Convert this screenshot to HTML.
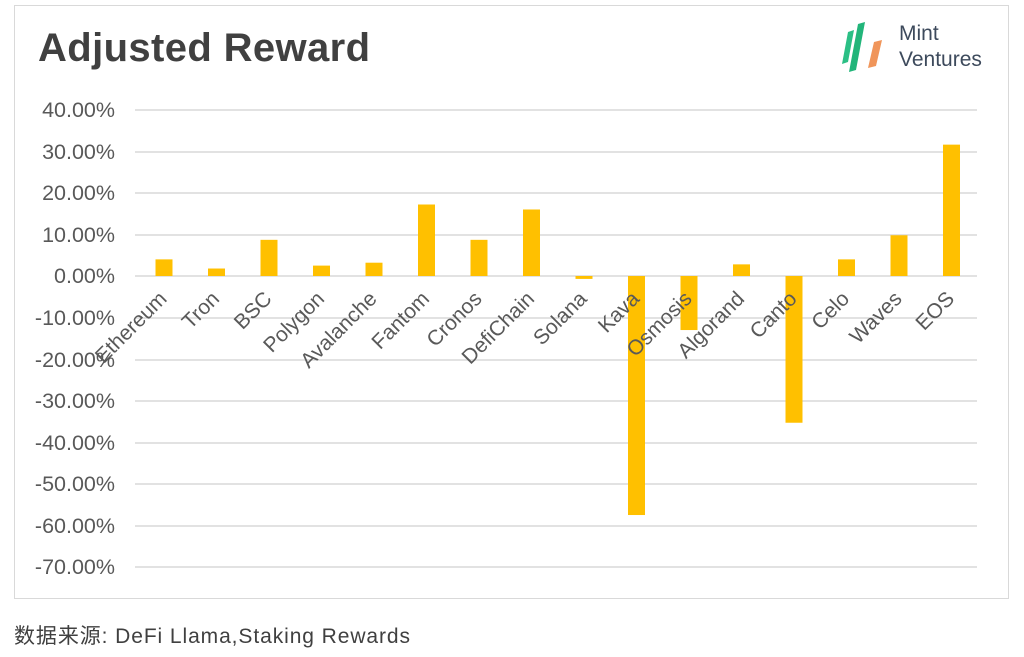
<!DOCTYPE html>
<html><head><meta charset="utf-8"><style>
body{margin:0;background:#fff;width:1024px;height:652px;overflow:hidden;font-family:"Liberation Sans","Noto Sans CJK SC",sans-serif}
</style></head><body>
<svg width="1024" height="652" xmlns="http://www.w3.org/2000/svg" font-family="Liberation Sans, Noto Sans CJK SC, sans-serif">
<rect x="14.5" y="5.5" width="994" height="593" fill="#fff" stroke="#d9d9d9"/>
<text x="38" y="61" font-size="40" font-weight="bold" fill="#404040" textLength="332">Adjusted Reward</text>
<g transform="translate(838,22)">
<polygon points="10,10 16,8 10,40 4,42" fill="#2bbf85"/>
<polygon points="20,2 27,0 18,48 11,50" fill="#22b57a"/>
<polygon points="36,20 44,18 38,44 30,46" fill="#f0955a"/>
</g>
<text x="899" y="40" font-size="21" fill="#3d4a5c">Mint</text>
<text x="899" y="66" font-size="21" fill="#3d4a5c">Ventures</text>
<g stroke="#d9d9d9" stroke-width="1.5">
<line x1="135" x2="977" y1="110" y2="110"/><line x1="135" x2="977" y1="152" y2="152"/>
<line x1="135" x2="977" y1="193" y2="193"/><line x1="135" x2="977" y1="235" y2="235"/>
<line x1="135" x2="977" y1="318" y2="318"/><line x1="135" x2="977" y1="360" y2="360"/>
<line x1="135" x2="977" y1="401" y2="401"/><line x1="135" x2="977" y1="443" y2="443"/>
<line x1="135" x2="977" y1="484" y2="484"/><line x1="135" x2="977" y1="526" y2="526"/>
<line x1="135" x2="977" y1="567" y2="567"/><line x1="135" x2="977" y1="276" y2="276"/>
</g>
<g font-size="21.5" fill="#595959" text-anchor="end">
<text x="115" y="117">40.00%</text><text x="115" y="159">30.00%</text>
<text x="115" y="200">20.00%</text><text x="115" y="242">10.00%</text>
<text x="115" y="283">0.00%</text><text x="115" y="325">-10.00%</text>
<text x="115" y="367">-20.00%</text><text x="115" y="408">-30.00%</text>
<text x="115" y="450">-40.00%</text><text x="115" y="491">-50.00%</text>
<text x="115" y="533">-60.00%</text><text x="115" y="574">-70.00%</text>
</g>
<g fill="#ffc000" id="bars"></g>
<g font-size="21" fill="#595959" text-anchor="end" id="labs"></g>
<text x="14" y="643" font-size="21" fill="#404040" textLength="396">数据来源: DeFi Llama,Staking Rewards</text>
<script>
var n=["Ethereum","Tron","BSC","Polygon","Avalanche","Fantom","Cronos","DefiChain","Solana","Kava","Osmosis","Algorand","Canto","Celo","Waves","EOS"];
var v=[4,1.8,8.7,2.5,3.2,17.2,8.7,16,-0.7,-57.5,-13,2.8,-35.3,4,9.8,31.6];
var b=document.getElementById("bars"),l=document.getElementById("labs"),ns="http://www.w3.org/2000/svg";
for(var i=0;i<16;i++){var c=164+i*52.5,y0=276,y=y0-v[i]*4.157;
var r=document.createElementNS(ns,"rect");r.setAttribute("x",c-8.5);r.setAttribute("width",17);
r.setAttribute("y",Math.min(y,y0));r.setAttribute("height",Math.abs(y-y0));b.appendChild(r);
var t=document.createElementNS(ns,"text");t.setAttribute("transform","translate("+(c+4)+",300) rotate(-45)");t.textContent=n[i];l.appendChild(t);}
</script>
</svg>
</body></html>
